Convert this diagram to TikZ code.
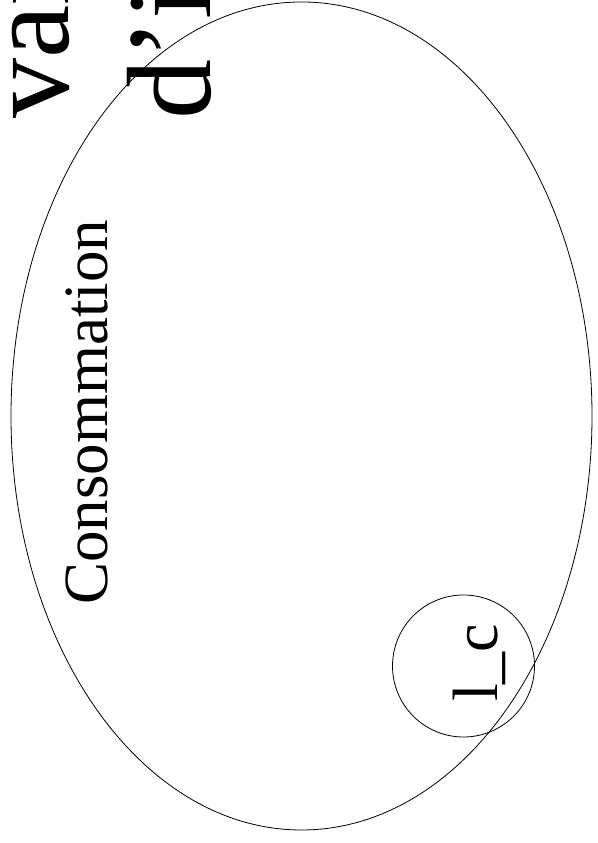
\documentclass[tikz,border=0pt]{standalone}
\usepackage{fontspec}
\setmainfont{Liberation Serif}
\usetikzlibrary{shapes.geometric}
\tikzset{
  outline/.style={draw=black, line width=0.8pt, inner sep=0pt},
  rottext/.style={rotate=90, anchor=base west, inner sep=0pt, text=black}
}
\begin{document}
\begin{tikzpicture}[x=1pt,y=1pt]
\useasboundingbox (0,0) rectangle (597,843);
\clip (0,0) rectangle (597,843);
\fill[white] (0,0) rectangle (597,843);
% large ellipse
\node[outline, ellipse, minimum width=581pt, minimum height=828pt] (conso) at (301.5,427) {};
% small circle
\node[outline, circle, minimum size=142pt] (lcircle) at (463.5,177) {};
% texts
\node[rottext, font=\fontsize{63}{75}\selectfont] (consotext) at (107,238) {Consommation};
\node[rottext, font=\fontsize{64}{76}\selectfont] (lctext) at (497,141) {l\_c};
\node[rottext, font=\fontsize{120}{142}\selectfont] (big1) at (68,724) {var};
\node[rottext, font=\fontsize{120}{142}\selectfont] (big2) at (210,723) {d'i};
\end{tikzpicture}
\end{document}
